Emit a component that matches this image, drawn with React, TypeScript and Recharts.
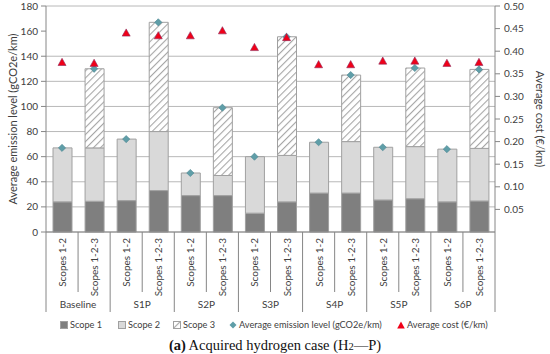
import React from "react";
import { ComposedChart, Bar, Line, XAxis, YAxis, CartesianGrid } from "recharts";

const groups = ["Baseline", "S1P", "S2P", "S3P", "S4P", "S5P", "S6P"];
const subLabels = ["Scopes 1-2", "Scopes 1-2-3"];

const scope1 = [24, 24.5, 25, 33, 29, 29, 15, 24, 31, 31, 25.5, 26.5, 24, 24.7];
const scope2 = [43, 42.5, 49, 47, 18, 16, 45, 37, 40.5, 41, 42, 41.5, 42, 41.9];
const scope3 = [0, 63, 0, 87, 0, 54, 0, 94.5, 0, 53, 0, 62.6, 0, 62.9];
const emission = [67, 130, 74, 167, 47, 99, 60, 155.5, 71.5, 125, 67.5, 130.6, 66, 129.5];
const cost = [0.375, 0.373, 0.44, 0.434, 0.434, 0.445, 0.408, 0.43, 0.37, 0.37, 0.378, 0.378, 0.373, 0.375];

const leftTicks = [0, 20, 40, 60, 80, 100, 120, 140, 160, 180];
const rightTicks = [0.05, 0.1, 0.15, 0.2, 0.25, 0.3, 0.35, 0.4, 0.45, 0.5];

const data = scope1.map((v, i) => ({
  name: `${groups[Math.floor(i / 2)]}|${subLabels[i % 2]}`,
  scope1: v,
  scope2: scope2[i],
  scope3: scope3[i],
  emission: emission[i],
  cost: cost[i],
}));

const FONT = "Lato, 'Open Sans', sans-serif";
const AXIS = "#868686";
const TEXT = "#404040";
const BAND = 449 / 14;

// two-level category axis: rotated sub label + separators + group label
const CategoryTick = (props: any) => {
  const { x, y, payload, index } = props;
  const i = payload?.index ?? index;
  const right = x + BAND / 2;
  const left = x - BAND / 2;
  return (
    <g>
      <text
        x={x}
        y={y + 6}
        transform={`rotate(-90, ${x}, ${y + 6})`}
        textAnchor="end"
        dominantBaseline="central"
        fontSize={10}
        fontFamily={FONT}
        fill={TEXT}
      >
        {payload.value.split("|")[1]}
      </text>
      <line x1={right} x2={right} y1={y} y2={i % 2 === 0 ? y + 60 : y + 80} stroke={AXIS} />
      {i === 0 && <line x1={left} x2={left} y1={y} y2={y + 80} stroke={AXIS} />}
      {i % 2 === 1 && (
        <text x={left} y={y + 76} textAnchor="middle" fontSize={10} fontFamily={FONT} fill={TEXT}>
          {payload.value.split("|")[0]}
        </text>
      )}
    </g>
  );
};

const Diamond = (props: any) => {
  const { cx, cy } = props;
  if (cx == null || cy == null) return null;
  const r = 3.6;
  return (
    <path
      d={`M${cx},${cy - r} L${cx + r},${cy} L${cx},${cy + r} L${cx - r},${cy} Z`}
      fill="#5f9ea8"
      stroke="#4a8590"
      strokeWidth={0.6}
    />
  );
};

const Triangle = (props: any) => {
  const { cx, cy } = props;
  if (cx == null || cy == null) return null;
  return (
    <path
      d={`M${cx},${cy - 4.2} L${cx + 4},${cy + 3} L${cx - 4},${cy + 3} Z`}
      fill="#f00018"
      stroke="#8e2a5a"
      strokeWidth={0.6}
    />
  );
};

const LegendItem = ({ left, icon, label }: { left: number; icon: React.ReactNode; label: string }) => (
  <span style={{ position: "absolute", left, top: 0, display: "flex", alignItems: "center", whiteSpace: "nowrap" }}>
    <svg width={8} height={8} style={{ marginRight: 2 }}>
      {icon}
    </svg>
    {label}
  </span>
);

export default function App() {
  return (
    <div style={{ position: "absolute", left: 0, top: 0, width: 550, height: 354, background: "#fff" }}>
      <svg width={0} height={0} style={{ position: "absolute" }}>
        <defs>
          <pattern id="hatch" width={5} height={5} patternUnits="userSpaceOnUse" patternTransform="rotate(45)">
            <rect width={5} height={5} fill="#fff" />
            <line x1={0} y1={0} x2={0} y2={5} stroke="#a6a6a6" strokeWidth={2.2} />
          </pattern>
        </defs>
      </svg>
      <ComposedChart width={550} height={318} data={data} margin={{ top: 6, right: 0, left: 0, bottom: 0 }}>
        <CartesianGrid vertical={false} stroke="#b8b8b8" yAxisId="left" />
        <XAxis
          dataKey="name"
          interval={0}
          height={86}
          tickSize={0}
          tickMargin={0}
          tickLine={false}
          stroke={AXIS}
          tick={<CategoryTick />}
        />
        <YAxis
          yAxisId="left"
          domain={[0, 180]}
          ticks={leftTicks}
          width={46}
          stroke={AXIS}
          tickSize={5}
          tickMargin={3}
          tick={{ fontSize: 10, fontFamily: FONT, fill: TEXT }}
          label={{
            value: "Average emission level (gCO2e/km)",
            angle: -90,
            position: "insideLeft",
            dx: 8,
            style: { textAnchor: "middle", fontSize: 11, fontFamily: FONT, fill: TEXT },
          }}
        />
        <YAxis
          yAxisId="right"
          orientation="right"
          domain={[0, 0.5]}
          ticks={rightTicks}
          width={55}
          stroke={AXIS}
          tickSize={5}
          tickMargin={4}
          tickFormatter={(v: number) => v.toFixed(2)}
          tick={{ fontSize: 10, fontFamily: FONT, fill: TEXT }}
          label={{
            value: "Average cost (€/km)",
            angle: 90,
            position: "insideRight",
            dx: -5,
            style: { textAnchor: "middle", fontSize: 11, fontFamily: FONT, fill: TEXT },
          }}
        />
        <Bar yAxisId="left" dataKey="scope1" stackId="s" barSize={19} fill="#7f7f7f" stroke="#a0a0a0" isAnimationActive={false} />
        <Bar yAxisId="left" dataKey="scope2" stackId="s" barSize={19} fill="#d9d9d9" stroke="#a0a0a0" isAnimationActive={false} />
        <Bar yAxisId="left" dataKey="scope3" stackId="s" barSize={19} fill="url(#hatch)" stroke="#a0a0a0" isAnimationActive={false} />
        <Line yAxisId="left" dataKey="emission" stroke="none" dot={<Diamond />} activeDot={false} isAnimationActive={false} />
        <Line yAxisId="right" dataKey="cost" stroke="none" dot={<Triangle />} activeDot={false} isAnimationActive={false} />
      </ComposedChart>
      <div
        style={{
          position: "absolute",
          left: 0,
          top: 319,
          width: 550,
          height: 14,
          fontSize: 9.2,
          fontFamily: FONT,
          color: TEXT,
        }}
      >
        <LegendItem left={60} icon={<rect x={0.5} y={0.5} width={7} height={7} fill="#7f7f7f" stroke="#a0a0a0" />} label="Scope 1" />
        <LegendItem left={118} icon={<rect x={0.5} y={0.5} width={7} height={7} fill="#d9d9d9" stroke="#a0a0a0" />} label="Scope 2" />
        <LegendItem left={173} icon={<rect x={0.5} y={0.5} width={7} height={7} fill="url(#hatch)" stroke="#a0a0a0" />} label="Scope 3" />
        <LegendItem left={229} icon={<path d="M4,0.5 L7.5,4 L4,7.5 L0.5,4 Z" fill="#5f9ea8" />} label="Average emission level (gCO2e/km)" />
        <LegendItem left={397} icon={<path d="M4,0.5 L7.8,7.5 L0.2,7.5 Z" fill="#f00018" />} label="Average cost (€/km)" />
      </div>
      <div
        style={{
          position: "absolute",
          left: 0,
          width: 550,
          top: 337,
          textAlign: "center",
          fontFamily: "'Liberation Serif', serif",
          fontSize: 14.5,
          color: "#111",
          lineHeight: "16px",
        }}
      >
        <b>(a)</b> Acquired hydrogen case (H<span style={{ fontSize: 10.5 }}>2</span>—P)
      </div>
    </div>
  );
}
